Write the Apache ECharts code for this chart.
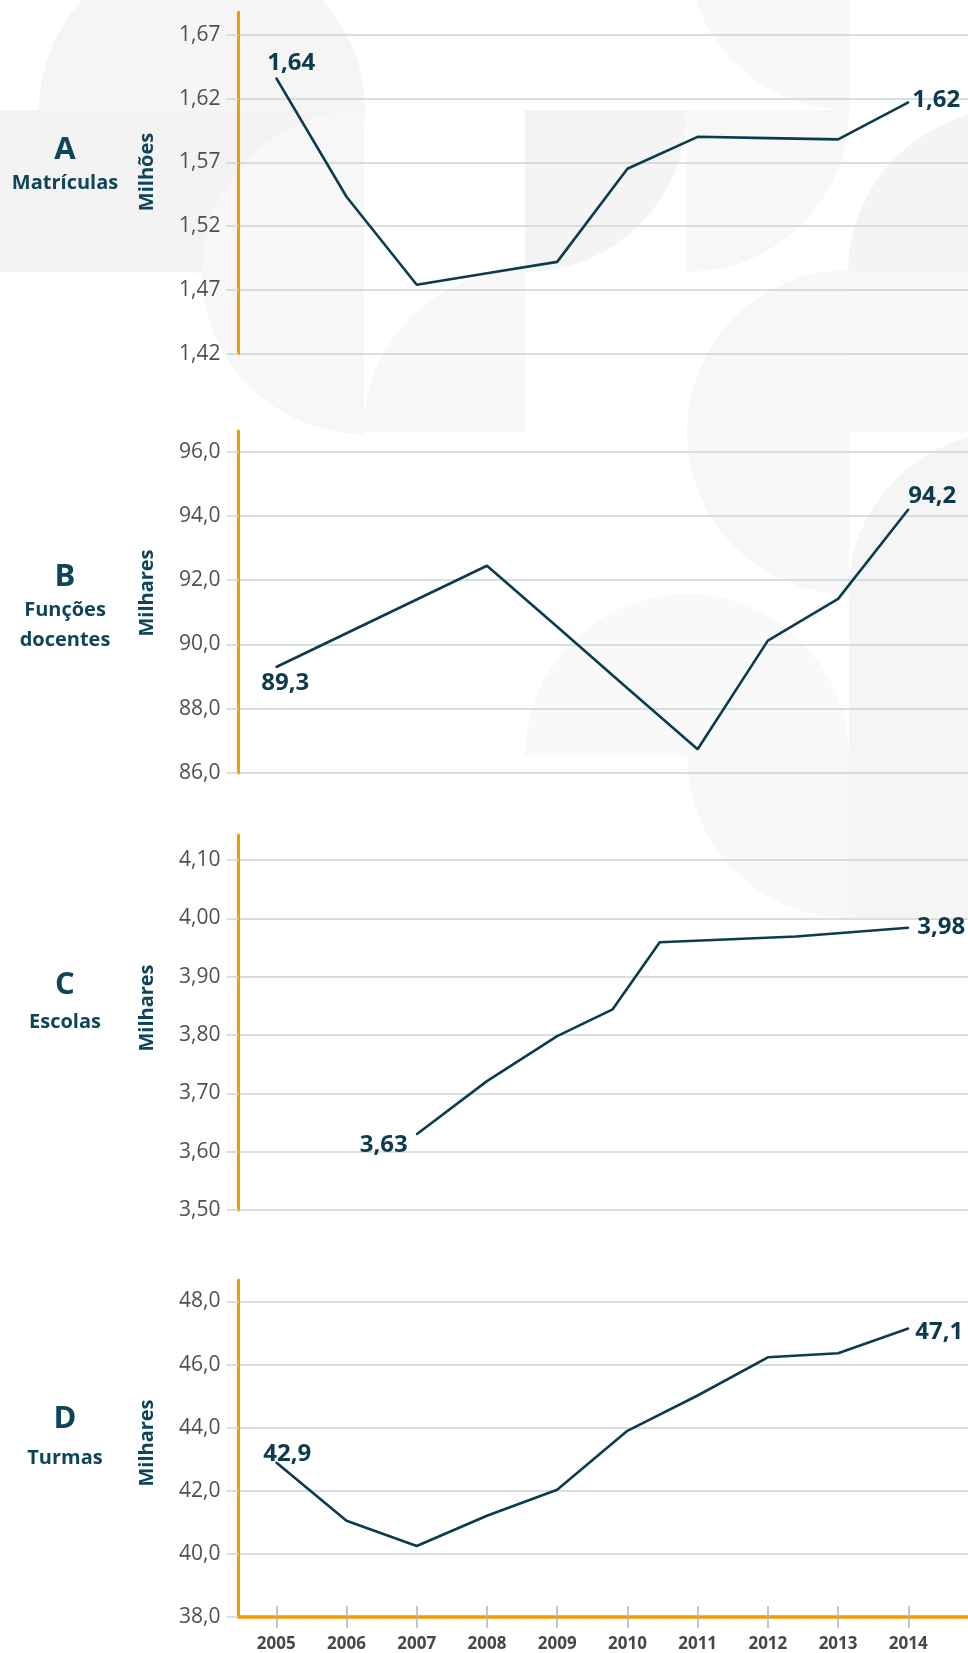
<!DOCTYPE html>
<html>
<head>
<meta charset="utf-8">
<script src="https://cdn.jsdelivr.net/npm/echarts@6/dist/echarts.min.js"></script>
<style>
html,body{margin:0;padding:0;background:#ffffff;}
#chart{width:968px;height:1653px;}
</style>
</head>
<body>
<div id="chart"></div>
<script>
// ---------- data ----------
const years = [2005, 2006, 2007, 2008, 2009, 2010, 2011, 2012, 2013, 2014];

// A - Matrículas (milhões)
const matriculas = [1.636, 1.543, 1.474, 1.483, 1.492, 1.565, 1.590, 1.589, 1.588, 1.617];
const ticksA = [1.42, 1.47, 1.52, 1.57, 1.62, 1.67];

// B - Funções docentes (milhares)
const funcoesDocentes = [89.3, 90.35, 91.4, 92.45, 90.55, 88.64, 86.74, 90.12, 91.42, 94.2];
const ticksB = [86, 88, 90, 92, 94, 96];

// C - Escolas (milhares); vertex positions (years) as drawn in the source
const escolasX = [2007, 2008, 2009, 2009.79, 2010.46, 2012.4, 2014];
const escolas = [3.63, 3.721, 3.798, 3.844, 3.959, 3.969, 3.984];
const ticksC = [3.5, 3.6, 3.7, 3.8, 3.9, 4.0, 4.1];

// D - Turmas (milhares)
const turmas = [42.9, 41.05, 40.25, 41.21, 42.03, 43.9, 45.02, 46.23, 46.36, 47.14];
const ticksD = [38, 40, 42, 44, 46, 48];

// ---------- styles ----------
const FONT = '"Open Sans", "Noto Sans", sans-serif';
const TEAL = '#0f4558';
const LINE = '#0b3b4c';
const ORANGE = '#f29c00';
const GRIDC = '#cad5da';
const TICKTXT = '#505050';

const XMIN = 2004.462, XMAX = 2014.85;

const panels = [
  {top: 12.3, height: 341.4, min: 1.42, max: 1.6876, ticks: ticksA, dec: 2,
   x: years, y: matriculas,
   first: {position: 'inside', offset: [15, -15]},
   last: {position: 'right', distance: 3, offset: [0, -2]}},
  {top: 431, height: 342, min: 86, max: 96.644, ticks: ticksB, dec: 1,
   x: years, y: funcoesDocentes,
   first: {position: 'inside', offset: [9, 16]},
   last: {position: 'inside', offset: [24, -13]}},
  {top: 835, height: 375, min: 3.5, max: 4.1429, ticks: ticksC, dec: 2,
   x: escolasX, y: escolas,
   first: {position: 'left', distance: 8, offset: [0, 11]},
   last: {position: 'right', distance: 8, offset: [0, -1]}},
  {top: 1280, height: 341, min: 38, max: 48.68, ticks: ticksD, dec: 1,
   x: years, y: turmas,
   first: {position: 'inside', offset: [11, -8]},
   last: {position: 'right', distance: 6, offset: [0, 4]}}
];

const fmt = (v, d) => v.toFixed(d).replace('.', ',');

const grid = [], xAxis = [], yAxis = [], series = [];
panels.forEach((p, i) => {
  grid.push({left: 238.5, right: 0, top: p.top, height: p.height, containLabel: false});
  const isLast = i === panels.length - 1;
  xAxis.push({
    type: 'value', gridIndex: i, min: XMIN, max: XMAX,
    axisLine: {show: isLast, onZero: false, lineStyle: {color: ORANGE, width: 3.5}},
    axisTick: {show: isLast, customValues: years, length: 11, lineStyle: {color: '#aeb4b7', width: 1.5}},
    axisLabel: {show: isLast, customValues: years, margin: 19, fontFamily: FONT, fontWeight: 'bold',
                fontSize: 17, color: '#474747', formatter: v => String(v)},
    splitLine: {show: false}
  });
  yAxis.push({
    type: 'value', gridIndex: i, min: p.min, max: p.max,
    axisLine: {show: true, lineStyle: {color: ORANGE, width: 3}},
    axisTick: {show: true, customValues: p.ticks, length: 12, lineStyle: {color: GRIDC, width: 1.5}},
    axisLabel: {customValues: p.ticks, margin: 18, fontFamily: FONT, fontSize: 21, color: TICKTXT,
                formatter: v => fmt(v, p.dec)},
    splitLine: {show: true, lineStyle: {color: GRIDC, width: 1.5}}
  });
  const n = p.y.length;
  const data = p.y.map((v, k) => {
    const item = {value: [p.x[k], v]};
    if (k === 0 || k === n - 1) {
      const lc = k === 0 ? p.first : p.last;
      item.symbol = 'circle';
      item.symbolSize = 2;
      item.label = Object.assign({show: true}, lc);
    }
    return item;
  });
  series.push({
    type: 'line', xAxisIndex: i, yAxisIndex: i, data: data,
    symbol: 'none', showSymbol: true, silent: true, animation: false,
    lineStyle: {color: LINE, width: 2.6},
    itemStyle: {color: LINE},
    label: {show: false, fontFamily: FONT, fontWeight: 'bold', fontSize: 24, color: LINE,
            formatter: prm => fmt(prm.value[1], p.dec)},
    z: 5
  });
});

// extra x axis for inward half of the year ticks on panel D
xAxis.push({
  type: 'value', gridIndex: 3, min: XMIN, max: XMAX, position: 'bottom',
  axisLine: {show: false},
  axisTick: {show: true, inside: true, customValues: years, length: 11, lineStyle: {color: '#aeb4b7', width: 1.5}},
  axisLabel: {show: false},
  splitLine: {show: false}
});

// ---------- decorative background (faint tiles) ----------
const PI = Math.PI;
const sector = (cx, cy, r, a0, a1, fill) => ({
  type: 'sector', silent: true, z: -100,
  shape: {cx: cx, cy: cy, r: r, r0: 0, startAngle: a0, endAngle: a1},
  style: {fill: fill}
});
const rect = (x, y, w, h, fill) => ({
  type: 'rect', silent: true, z: -100,
  shape: {x: x, y: y, width: w, height: h}, style: {fill: fill}
});
const bg = [
  sector(202, 110, 163, 0, 2 * PI, '#f5f5f5'),
  rect(0, 110, 364, 162, '#f3f3f3'),
  sector(364, 272, 162, PI / 2, 3 * PI / 2, '#f7f7f7'),
  sector(525, 110, 162, 0, PI / 2, '#f4f4f4'),
  sector(687, 110, 162, 0, PI / 2, '#f7f7f7'),
  sector(849, -52, 162, PI / 2, PI, '#f8f8f8'),
  sector(1010, 272, 162, PI, 3 * PI / 2, '#f4f4f4'),
  sector(849, 432, 162, PI / 2, 3 * PI / 2, '#f7f7f7'),
  rect(849, 272, 119, 160, '#f8f8f8'),
  sector(525, 432, 162, PI, 3 * PI / 2, '#f8f8f8'),
  sector(1010, 594, 162, PI, 3 * PI / 2, '#f5f5f5'),
  rect(849, 594, 119, 324, '#f5f5f5'),
  sector(687, 756, 162, PI, 2 * PI, '#f9f9f9'),
  sector(849, 756, 162, PI / 2, PI, '#f8f8f8')
];

// ---------- panel titles ----------
const titleText = (x, y, text, size) => ({
  type: 'text', x: x, y: y, silent: true,
  style: {text: text, fontFamily: FONT, fontWeight: 'bold', fontSize: size, fill: TEAL,
          align: 'center', verticalAlign: 'middle'}
});
const unitText = (y, text) => ({
  type: 'text', x: 147, y: y, rotation: Math.PI / 2, silent: true,
  style: {text: text, fontFamily: FONT, fontWeight: 'bold', fontSize: 20, fill: TEAL,
          align: 'center', verticalAlign: 'middle'}
});

const graphic = bg.concat([
  titleText(65, 150, 'A', 31), titleText(65, 183, 'Matrículas', 20), unitText(172, 'Milhões'),
  titleText(65, 577, 'B', 31), titleText(65, 610, 'Funções', 20), titleText(65, 640, 'docentes', 20), unitText(593, 'Milhares'),
  titleText(65, 985, 'C', 31), titleText(65, 1022, 'Escolas', 20), unitText(1008, 'Milhares'),
  titleText(65, 1419, 'D', 31), titleText(65, 1458, 'Turmas', 20), unitText(1443, 'Milhares')
]);

const chart = echarts.init(document.getElementById('chart'), null, {renderer: 'canvas'});
chart.setOption({
  backgroundColor: '#ffffff',
  animation: false,
  grid: grid, xAxis: xAxis, yAxis: yAxis, series: series,
  graphic: graphic
});
</script>
</body>
</html>
